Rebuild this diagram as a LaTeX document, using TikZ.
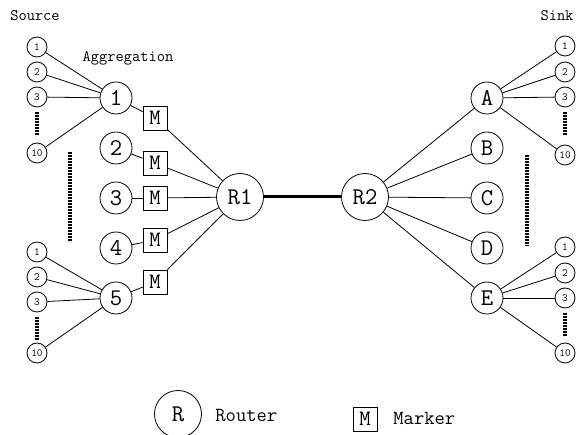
\documentclass[tikz,border=0pt]{standalone}
\usepackage{fontspec}
\usetikzlibrary{positioning}

\tikzset{
  host/.style={circle,draw,minimum size=20pt,inner sep=0pt,font=\ttfamily\fontsize{11}{11}\selectfont},
  aggr/.style={circle,draw,minimum size=32pt,inner sep=0pt,font=\ttfamily\fontsize{24}{24}\selectfont},
  router/.style={circle,draw,minimum size=47pt,inner sep=0pt,font=\ttfamily\fontsize{24}{24}\selectfont},
  marker/.style={draw,minimum size=24pt,inner sep=0pt,font=\ttfamily\fontsize{22}{22}\selectfont},
  caption/.style={font=\ttfamily\fontsize{16}{16}\selectfont},
  legend/.style={anchor=west,inner sep=0pt,font=\ttfamily\fontsize{20}{20}\selectfont},
  ellipsis/.style={line width=4pt,dash pattern=on 1.6pt off 1.4pt}
}

\begin{document}
\begin{tikzpicture}[x=1pt,y=-1pt,node distance=50pt,on grid,line width=0.8pt]
  \clip (0,0) rectangle (576,435);
  % aggregation side
  \node[aggr] (g1) at (116,98) {1};
  \node[aggr] (g2) [below = of g1] {2};
  \node[aggr] (g3) [below = of g2] {3};
  \node[aggr] (g4) [below = of g3] {4};
  \node[aggr] (g5) [below = of g4] {5};
  \node[marker] (m1) at (155,118) {M};
  \node[marker] (m2) at (155,163) {M};
  \node[marker] (m3) at (155,198) {M};
  \node[marker] (m4) at (155,240) {M};
  \node[marker] (m5) at (155,282) {M};
  \node[router] (r1) at (240,197) {R1};
  \node[router] (r2) at (365,197) {R2};
  % sink side
  \node[aggr] (ka) at (487,98) {A};
  \node[aggr] (kb) [below = of ka] {B};
  \node[aggr] (kc) [below = of kb] {C};
  \node[aggr] (kd) [below = of kc] {D};
  \node[aggr] (ke) [below = of kd] {E};
  % hosts
  \node[host] (ul1) at (37,47) {1};
  \node[host] (ul2) at (37,72) {2};
  \node[host] (ul3) at (37,97) {3};
  \node[host] (ul10) at (37,153) {10};
  \node[host] (ll1) at (37,252) {1};
  \node[host] (ll2) at (37,277) {2};
  \node[host] (ll3) at (37,302) {3};
  \node[host] (ll10) at (37,353) {10};
  \node[host] (ur1) at (565,46) {1};
  \node[host] (ur2) at (565,72) {2};
  \node[host] (ur3) at (565,97) {3};
  \node[host] (ur10) at (565,155) {10};
  \node[host] (lr1) at (565,247) {1};
  \node[host] (lr2) at (565,273) {2};
  \node[host] (lr3) at (565,298) {3};
  \node[host] (lr10) at (565,353) {10};
  % labels
  \node[caption] (src) at (35,16) {Source};
  \node[caption] (snk) at (557,16) {Sink};
  \node[caption] (agl) at (128,58) {Aggregation};
  % legend
  \node[router] (lgr) at (178,414) {R};
  \node[legend] (lgrt) at (215,416) {Router};
  \node[marker] (lgm) at (365,419) {M};
  \node[legend] (lgmt) at (393,418) {Marker};
  % dots
  \draw[ellipsis] (37,112) -- (37,135);
  \draw[ellipsis] (37,317) -- (37,340);
  \draw[ellipsis] (70,152) -- (70,242);
  \draw[ellipsis] (565,112) -- (565,135);
  \draw[ellipsis] (565,313) -- (565,336);
  \draw[ellipsis] (527,155) -- (527,246);
  \path
  (ul1) edge (g1)
  (ul2) edge (g1)
  (ul3) edge (g1)
  (ul10) edge (g1)
  (ll1) edge (g5)
  (ll2) edge (g5)
  (ll3) edge (g5)
  (ll10) edge (g5)
  (g1) edge (m1)
  (g2) edge (m2)
  (g3) edge (m3)
  (g4) edge (m4)
  (g5) edge (m5)
  (m1) edge (r1)
  (m2) edge (r1)
  (m3) edge (r1)
  (m4) edge (r1)
  (m5) edge (r1)
  (r1) edge [line width=3pt] (r2)
  (r2) edge (ka)
  (r2) edge (kb)
  (r2) edge (kc)
  (r2) edge (kd)
  (r2) edge (ke)
  (ka) edge (ur1)
  (ka) edge (ur2)
  (ka) edge (ur3)
  (ka) edge (ur10)
  (ke) edge (lr1)
  (ke) edge (lr2)
  (ke) edge (lr3)
  (ke) edge (lr10)
  ;
\end{tikzpicture}
\end{document}
